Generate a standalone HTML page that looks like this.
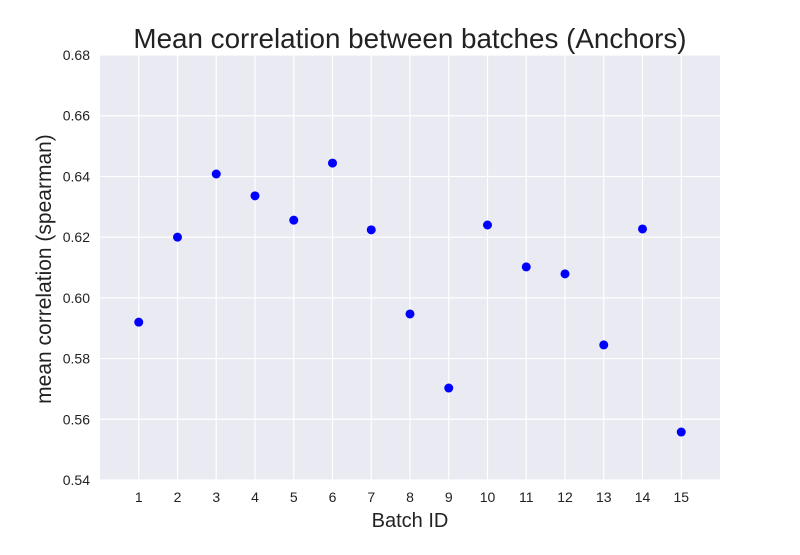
<!DOCTYPE html>
<html>
<head>
<meta charset="utf-8">
<style>
  html,body{margin:0;padding:0;background:#fff;}
  body{width:800px;height:550px;overflow:hidden;font-family:"Liberation Sans",sans-serif;}
</style>
</head>
<body>
<svg id="chart" width="800" height="550" xmlns="http://www.w3.org/2000/svg">
  <rect x="0" y="0" width="800" height="550" fill="#fff"/>
  <rect x="100" y="55" width="620" height="425" fill="#eaeaf2"/>
  <g id="grid"></g>
  <g id="ticks"></g>
  <g id="points"></g>
  <text x="410" y="48" text-anchor="middle" font-size="27.8" fill="#222">Mean correlation between batches (Anchors)</text>
  <text x="410" y="527" text-anchor="middle" font-size="20" fill="#222">Batch ID</text>
  <text transform="translate(51,269) rotate(-90)" text-anchor="middle" font-size="21" fill="#222">mean correlation (spearman)</text>
</svg>
<script>
const batches = [1,2,3,4,5,6,7,8,9,10,11,12,13,14,15];
const values = [0.5920,0.6200,0.6408,0.6336,0.6256,0.6444,0.6224,0.5947,0.5703,0.6240,0.6102,0.6079,0.5845,0.6227,0.5558];
const xTicks = [1,2,3,4,5,6,7,8,9,10,11,12,13,14,15];
const yTicks = [0.54,0.56,0.58,0.60,0.62,0.64,0.66,0.68];

const X0=100, X1=720, Y0=480, Y1=55;
const xMin=0, xMax=16, yMin=0.54, yMax=0.68;
function xs(v){return X0+(v-xMin)/(xMax-xMin)*(X1-X0);}
function ys(v){return Y0-(v-yMin)/(yMax-yMin)*(Y0-Y1);}

const NS="http://www.w3.org/2000/svg";
const grid=document.getElementById('grid');
const ticks=document.getElementById('ticks');
const pts=document.getElementById('points');

xTicks.forEach(t=>{
  const l=document.createElementNS(NS,'line');
  l.setAttribute('x1',xs(t));l.setAttribute('x2',xs(t));
  l.setAttribute('y1',Y1);l.setAttribute('y2',Y0);
  l.setAttribute('stroke','#fff');l.setAttribute('stroke-width','1.2');
  
  
  grid.appendChild(l);
  const tx=document.createElementNS(NS,'text');
  tx.setAttribute('x',xs(t));tx.setAttribute('y',502);
  tx.setAttribute('text-anchor','middle');tx.setAttribute('font-size','14');tx.setAttribute('fill','#222');
  tx.textContent=t;
  
  
  ticks.appendChild(tx);
});
yTicks.forEach(t=>{
  const l=document.createElementNS(NS,'line');
  l.setAttribute('x1',X0);l.setAttribute('x2',X1);
  l.setAttribute('y1',ys(t));l.setAttribute('y2',ys(t));
  l.setAttribute('stroke','#fff');l.setAttribute('stroke-width','1.2');
  
  
  grid.appendChild(l);
  const tx=document.createElementNS(NS,'text');
  tx.setAttribute('x',90);tx.setAttribute('y',ys(t)+5);
  tx.setAttribute('text-anchor','end');tx.setAttribute('font-size','14');tx.setAttribute('fill','#222');
  tx.textContent=t.toFixed(2);
  
  
  ticks.appendChild(tx);
});
batches.forEach((b,i)=>{
  const c=document.createElementNS(NS,'circle');
  c.setAttribute('cx',xs(b));c.setAttribute('cy',ys(values[i]));
  c.setAttribute('r',4.5);c.setAttribute('fill','#0000ff');
  
  
  pts.appendChild(c);
});
</script>
</body>
</html>
